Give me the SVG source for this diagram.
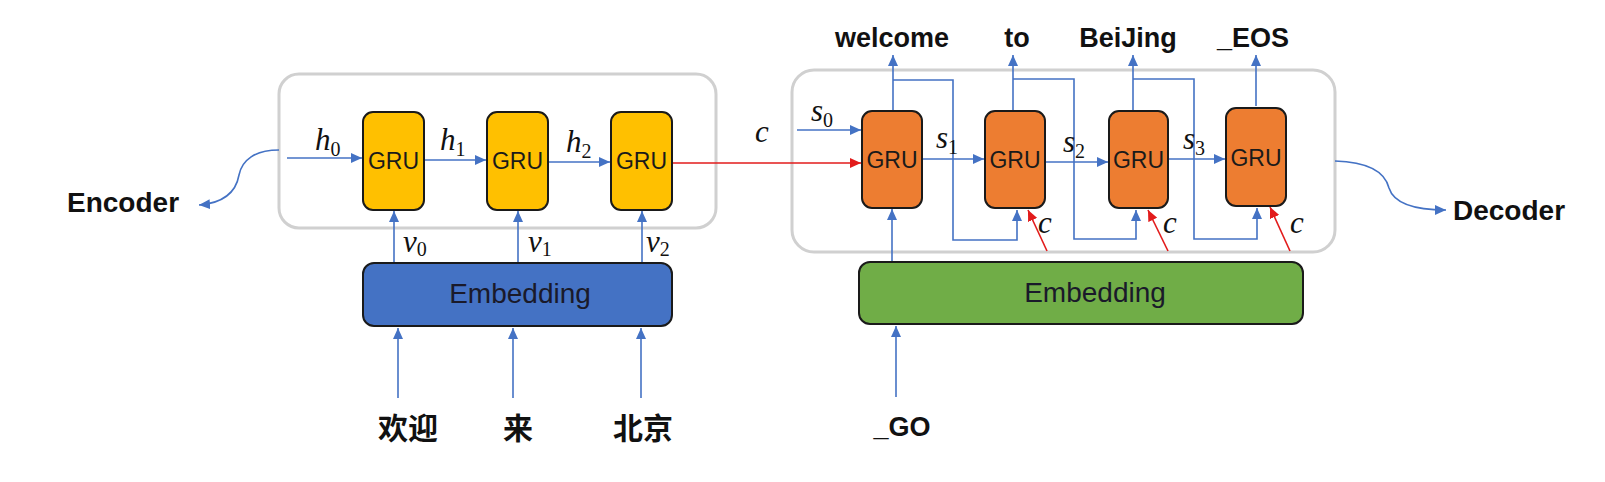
<svg xmlns="http://www.w3.org/2000/svg" width="1605" height="482" viewBox="0 0 1605 482">
<defs>
<marker id="ab" markerUnits="userSpaceOnUse" markerWidth="12" markerHeight="10" refX="11" refY="5" orient="auto"><path d="M0,0 L11,5 L0,10 z" fill="#4472C4"/></marker>
<marker id="ar" markerUnits="userSpaceOnUse" markerWidth="12" markerHeight="10" refX="11" refY="5" orient="auto"><path d="M0,0 L11,5 L0,10 z" fill="#E21B1B"/></marker>
<style>
.cont{fill:#fff;stroke:#D0D0D0;stroke-width:3}
.gy{fill:#FFC000;stroke:#1a1a1a;stroke-width:2}
.go{fill:#ED7D31;stroke:#1a1a1a;stroke-width:2}
.emb{stroke:#1a1a1a;stroke-width:2}
.gt{font-family:"Liberation Sans",Arial,sans-serif;font-size:23px;fill:#1a1a1a;text-anchor:middle}
.et{font-family:"Liberation Sans",Arial,sans-serif;font-size:28px;fill:#1a1a2a;text-anchor:middle}
.bl{font-family:"Liberation Sans",Arial,sans-serif;font-weight:bold;font-size:27px;fill:#111;text-anchor:middle}
.big{font-family:"Liberation Sans",Arial,sans-serif;font-weight:bold;font-size:28px;fill:#111}
.cjk{font-family:"Noto Sans CJK SC",sans-serif;font-weight:bold;font-size:30px;fill:#111;text-anchor:middle}
.m{font-family:"Liberation Serif","Times New Roman",serif;font-style:italic;font-size:31px;fill:#111}
.sub{font-style:normal;font-size:20px}
.b{fill:none;stroke:#4472C4;stroke-width:1.6}
.r{fill:none;stroke:#E21B1B;stroke-width:1.6}
</style>
</defs>
<rect width="1605" height="482" fill="#fff"/>

<g id="encoder-container"><rect class="cont" x="279" y="74" width="437" height="154" rx="20"/></g>
<g id="decoder-container"><rect class="cont" x="792" y="70" width="543" height="182" rx="22"/></g>

<g id="connectors">
<path class="b" d="M287,158 L362,158" marker-end="url(#ab)"/>
<path class="b" d="M424,160 L486,160" marker-end="url(#ab)"/>
<path class="b" d="M548,162 L610,162" marker-end="url(#ab)"/>
<path class="b" d="M394,263 L394,211" marker-end="url(#ab)"/>
<path class="b" d="M518,263 L518,211" marker-end="url(#ab)"/>
<path class="b" d="M642,263 L642,211" marker-end="url(#ab)"/>
<path class="b" d="M398,398 L398,328" marker-end="url(#ab)"/>
<path class="b" d="M513,398 L513,328" marker-end="url(#ab)"/>
<path class="b" d="M641,398 L641,328" marker-end="url(#ab)"/>
<path class="b" d="M279,150 C255,150 242,160 239,175 C236,192 224,203 199,205" marker-end="url(#ab)"/>
<path class="r" d="M672,163 L861,163" marker-end="url(#ar)"/>
<path class="b" d="M797,130 L861,130" marker-end="url(#ab)"/>
<path class="b" d="M922,159 L984,159" marker-end="url(#ab)"/>
<path class="b" d="M1045,162 L1108,162" marker-end="url(#ab)"/>
<path class="b" d="M1168,159 L1225,159" marker-end="url(#ab)"/>
<path class="b" d="M893,111 L893,55" marker-end="url(#ab)"/>
<path class="b" d="M1013,111 L1013,55" marker-end="url(#ab)"/>
<path class="b" d="M1133,111 L1133,55" marker-end="url(#ab)"/>
<path class="b" d="M1256,106 L1256,55" marker-end="url(#ab)"/>
<path class="b" d="M893,80 L953,80 L953,240 L1017,240 L1017,210" marker-end="url(#ab)"/>
<path class="b" d="M1013,79 L1074,79 L1074,239 L1136,239 L1136,210" marker-end="url(#ab)"/>
<path class="b" d="M1133,79 L1194,79 L1194,239 L1257,239 L1257,208" marker-end="url(#ab)"/>
<path class="b" d="M892,262 L892,209" marker-end="url(#ab)"/>
<path class="b" d="M896,397 L896,326" marker-end="url(#ab)"/>
<path class="r" d="M1047,251 L1028,210" marker-end="url(#ar)"/>
<path class="r" d="M1168,251 L1148,210" marker-end="url(#ar)"/>
<path class="r" d="M1290,251 L1270,207" marker-end="url(#ar)"/>
<path class="b" d="M1335,161 C1368,162 1385,172 1389,188 C1394,204 1416,210 1446,210" marker-end="url(#ab)"/>
</g>

<g id="enc-gru1"><rect class="gy" x="363" y="112" width="61" height="98" rx="10"/><text class="gt" x="393.5" y="169">GRU</text></g>
<g id="enc-gru2"><rect class="gy" x="487" y="112" width="61" height="98" rx="10"/><text class="gt" x="517.5" y="169">GRU</text></g>
<g id="enc-gru3"><rect class="gy" x="611" y="112" width="61" height="98" rx="10"/><text class="gt" x="641.5" y="169">GRU</text></g>

<g id="dec-gru1"><rect class="go" x="862" y="111" width="60" height="97" rx="10"/><text class="gt" x="892" y="168">GRU</text></g>
<g id="dec-gru2"><rect class="go" x="985" y="111" width="60" height="97" rx="10"/><text class="gt" x="1015" y="168">GRU</text></g>
<g id="dec-gru3"><rect class="go" x="1109" y="111" width="59" height="97" rx="10"/><text class="gt" x="1138.5" y="168">GRU</text></g>
<g id="dec-gru4"><rect class="go" x="1226" y="108" width="60" height="98" rx="10"/><text class="gt" x="1256" y="166">GRU</text></g>

<g id="enc-embedding"><rect class="emb" x="363" y="263" width="309" height="63" rx="11" fill="#4472C4"/><text class="et" x="520" y="303">Embedding</text></g>
<g id="dec-embedding"><rect class="emb" x="859" y="262" width="444" height="62" rx="11" fill="#70AD47"/><text class="et" x="1095" y="302">Embedding</text></g>

<g id="labels">
<text class="m" x="315" y="150">h<tspan class="sub" dy="6">0</tspan></text>
<text class="m" x="440" y="150">h<tspan class="sub" dy="6">1</tspan></text>
<text class="m" x="566" y="152">h<tspan class="sub" dy="6">2</tspan></text>
<text class="m" x="403" y="252">v<tspan class="sub" dy="4">0</tspan></text>
<text class="m" x="528" y="252">v<tspan class="sub" dy="4">1</tspan></text>
<text class="m" x="646" y="252">v<tspan class="sub" dy="4">2</tspan></text>
<text class="m" x="755" y="142">c</text>
<text class="m" x="811" y="121">s<tspan class="sub" dy="6">0</tspan></text>
<text class="m" x="936" y="148">s<tspan class="sub" dy="6">1</tspan></text>
<text class="m" x="1063" y="152">s<tspan class="sub" dy="6">2</tspan></text>
<text class="m" x="1183" y="149">s<tspan class="sub" dy="6">3</tspan></text>
<text class="m" x="1038" y="233">c</text>
<text class="m" x="1163" y="233">c</text>
<text class="m" x="1290" y="233">c</text>
</g>

<g id="words">
<text class="bl" x="892" y="47">welcome</text>
<text class="bl" x="1017" y="47">to</text>
<text class="bl" x="1128" y="47">BeiJing</text>
<text class="bl" x="1253" y="47">_EOS</text>
<text class="bl" x="902" y="436">_GO</text>
<text class="cjk" x="408" y="439">欢迎</text>
<text class="cjk" x="518" y="439">来</text>
<text class="cjk" x="643" y="439">北京</text>
<text class="big" x="67" y="212">Encoder</text>
<text class="big" x="1453" y="220">Decoder</text>
</g>
</svg>
